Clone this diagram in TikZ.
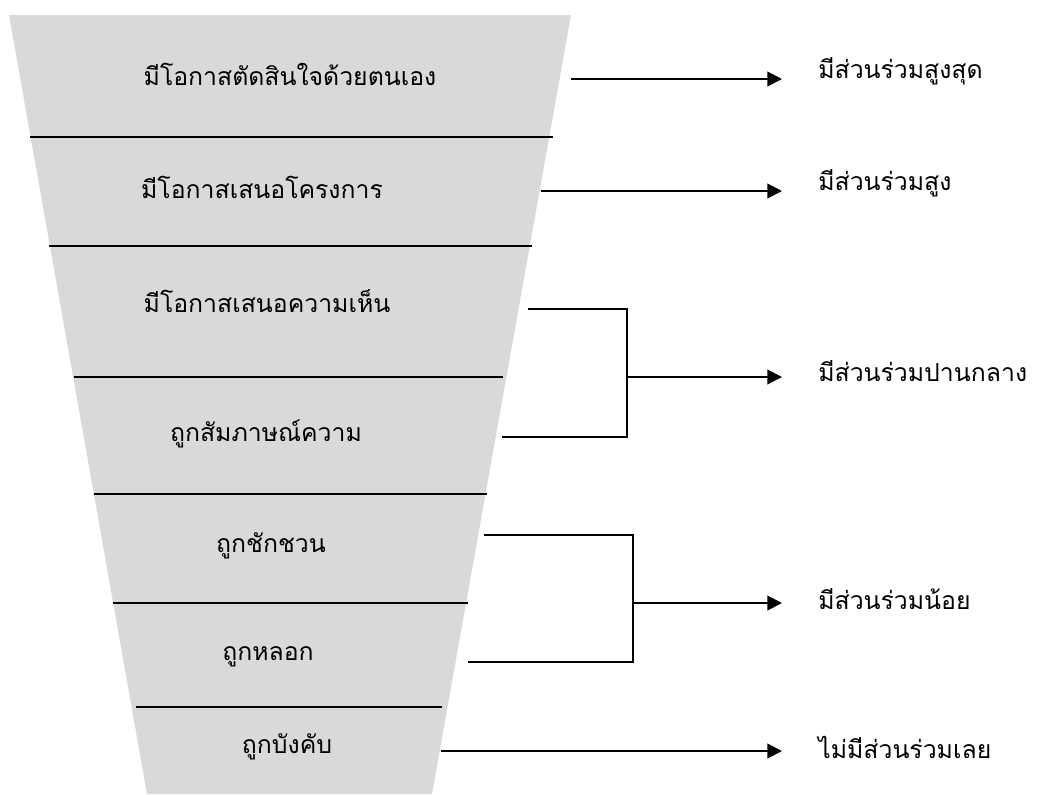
\documentclass[tikz,border=0pt]{standalone}
\usepackage{fontspec}
\newfontfamily\thaifont[Script=Thai]{Loma}
\usetikzlibrary{arrows.meta}
\definecolor{funnelgray}{RGB}{217,217,217}
\tikzset{
  lvl/.style={font=\thaifont\fontsize{18.6}{22}\selectfont, inner sep=0pt, anchor=center},
  res/.style={font=\thaifont\fontsize{18.6}{22}\selectfont, inner sep=0pt, anchor=west},
  sep/.style={line width=1.3pt},
  conn/.style={line width=1.5pt},
  arr/.style={line width=1.5pt, -{Triangle[length=11pt,width=11pt]}}
}
\begin{document}
\begin{tikzpicture}[x=0.75pt,y=-0.75pt]
\useasboundingbox (0,0) rectangle (1045,794);
% funnel
\fill[funnelgray] (9,15) -- (571,15) -- (432,794) -- (147,794) -- cycle;
% separators
\draw[sep] (30,137) -- (553,137);
\draw[sep] (49,246) -- (532,246);
\draw[sep] (74,377) -- (503,377);
\draw[sep] (94,494) -- (487,494);
\draw[sep] (113,603) -- (468,603);
\draw[sep] (136,707) -- (442,707);
% level texts
\node[lvl] (t1) at (290,74) {มีโอกาสตัดสินใจด้วยตนเอง};
\node[lvl] (t2) at (262,187) {มีโอกาสเสนอโครงการ};
\node[lvl] (t3) at (267,301) {มีโอกาสเสนอความเห็น};
\node[lvl] (t4) at (266,434) {ถูกสัมภาษณ์ความ};
\node[lvl] (t5) at (271,546) {ถูกชักชวน};
\node[lvl] (t6) at (268,657) {ถูกหลอก};
\node[lvl] (t7) at (287,747) {ถูกบังคับ};
% result labels
\node[res] (r1) at (818,71) {มีส่วนร่วมสูงสุด};
\node[res] (r2) at (818,183) {มีส่วนร่วมสูง};
\node[res] (r3) at (818,371) {มีส่วนร่วมปานกลาง};
\node[res] (r4) at (818,599) {มีส่วนร่วมน้อย};
\node[res] (r5) at (818,747) {ไม่มีส่วนร่วมเลย};
% connector coordinates
\coordinate (s1) at (571,79);  \coordinate (e1) at (782,79);
\coordinate (s2) at (541,191); \coordinate (e2) at (782,191);
\coordinate (b3a) at (528,309); \coordinate (b3b) at (502,437);
\coordinate (v3a) at (627,309); \coordinate (v3b) at (627,437);
\coordinate (m3) at (627,377); \coordinate (e3) at (782,377);
\coordinate (b4a) at (484,535); \coordinate (b4b) at (468,662);
\coordinate (v4a) at (633,535); \coordinate (v4b) at (633,662);
\coordinate (m4) at (633,603); \coordinate (e4) at (782,603);
\coordinate (s5) at (441,751); \coordinate (e5) at (782,751);
% connectors
\draw[arr] (s1) -- (e1);
\draw[arr] (s2) -- (e2);
\draw[conn] (b3a) -- (v3a) -- (v3b) -- (b3b);
\draw[arr] (m3) -- (e3);
\draw[conn] (b4a) -- (v4a) -- (v4b) -- (b4b);
\draw[arr] (m4) -- (e4);
\draw[arr] (s5) -- (e5);
\end{tikzpicture}
\end{document}
